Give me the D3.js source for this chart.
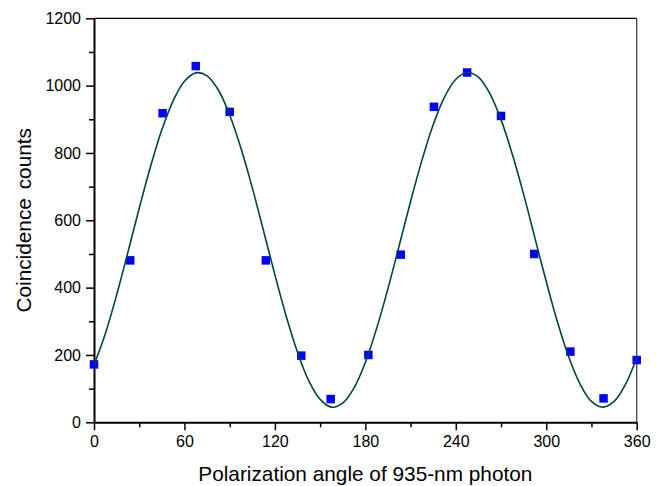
<!DOCTYPE html>
<html>
<head>
<meta charset="utf-8">
<script src="https://cdn.jsdelivr.net/npm/d3@7"></script>
<style>
    body { margin: 0; background: #fff; }
    text { font-family: "Liberation Sans", Arial, sans-serif; fill: #000; }
</style>
</head>
<body>
<div id="chart"></div>
<script>
// Measured points (angle in degrees, coincidence counts)
let angles = [0, 24, 45.5, 67.5, 90, 114, 137.5, 157, 182, 203.5, 225.5, 247.5, 270, 292, 316, 338, 360];
let counts = [172, 481, 918, 1058, 922, 481, 198, 69, 200, 498, 937, 1039, 910, 500, 210, 71, 185];

// Fitted curve, every 7.5 degrees
let fitAngles = [0, 7.5, 15, 22.5, 30, 37.5, 45, 52.5, 60, 67.5, 75, 82.5, 90, 97.5, 105, 112.5,
    120, 127.5, 135, 142.5, 150, 157.5, 165, 172.5, 180, 187.5, 195, 202.5, 210, 217.5, 225, 232.5,
    240, 247.5, 255, 262.5, 270, 277.5, 285, 292.5, 300, 307.5, 315, 322.5, 330, 337.5, 345, 352.5, 360];
let fitCounts = [170, 263, 378, 505, 636, 760, 869, 955, 1013, 1038, 1029, 987, 913, 814, 697, 568,
    438, 315, 208, 123, 68, 45, 57, 102, 178, 279, 397, 526, 656, 778, 884, 966,
    1019, 1039, 1025, 977, 899, 796, 677, 547, 418, 297, 193, 113, 62, 45, 62, 112, 192];

let xTicks = [0, 60, 120, 180, 240, 300, 360];
let xMinorTicks = [30, 90, 150, 210, 270, 330];
let yTicks = [0, 200, 400, 600, 800, 1000, 1200];
let yMinorTicks = [100, 300, 500, 700, 900, 1100];

let chart_width = 671;
let chart_height = 486;
let plotLeft = 94, plotRight = 636.7, plotTop = 18.3, plotBottom = 422.3;

let svg = d3.select('#chart')
    .append('svg')
    .attr('width', chart_width)
    .attr('height', chart_height);

// Scales
let xScale = d3.scaleLinear()
    .domain([0, 360])
    .range([plotLeft, plotRight]);

let yScale = d3.scaleLinear()
    .domain([0, 1200])
    .range([plotBottom, plotTop]);

// Minor ticks first, then major ticks with labels
svg.append('g')
    .attr('transform', 'translate(0,' + plotBottom + ')')
    .call(d3.axisBottom(xScale).tickValues(xMinorTicks).tickSize(5).tickFormat(''))
    .call(g => g.select('.domain').remove());

svg.append('g')
    .attr('transform', 'translate(' + plotLeft + ',0)')
    .call(d3.axisLeft(yScale).tickValues(yMinorTicks).tickSize(5).tickFormat(''))
    .call(g => g.select('.domain').remove());

let xAxis = svg.append('g')
    .attr('transform', 'translate(0,' + plotBottom + ')')
    .call(d3.axisBottom(xScale).tickValues(xTicks).tickSize(8).tickSizeOuter(0)
        .tickPadding(5).tickFormat(d3.format('d')));

let yAxis = svg.append('g')
    .attr('transform', 'translate(' + plotLeft + ',0)')
    .call(d3.axisLeft(yScale).tickValues(yTicks).tickSize(8).tickSizeOuter(0)
        .tickPadding(5).tickFormat(d3.format('d')));

svg.selectAll('.tick line')
    .attr('stroke', '#000')
    .attr('stroke-width', 1.5);

svg.selectAll('.tick text')
    .attr('font-size', 16)
    .attr('font-family', '"Liberation Sans", Arial, sans-serif');

xAxis.select('.domain').attr('stroke-width', 2);
yAxis.select('.domain').attr('stroke-width', 2);

// Top and right frame
svg.append('line')
    .attr('x1', plotLeft).attr('x2', plotRight)
    .attr('y1', plotTop).attr('y2', plotTop)
    .attr('stroke', '#000')
    .attr('stroke-width', 1.2);

svg.append('line')
    .attr('x1', plotRight).attr('x2', plotRight)
    .attr('y1', plotTop).attr('y2', plotBottom)
    .attr('stroke', '#333')
    .attr('stroke-width', 1.2);

// Data squares
let size = 8.5;
svg.append('g')
    .selectAll('rect')
    .data(angles)
    .enter()
    .append('rect')
    .attr('x', (d, i) => xScale(d) - size / 2)
    .attr('y', (d, i) => yScale(counts[i]) - size / 2)
    .attr('width', size)
    .attr('height', size)
    .attr('fill', '#0000ff');

// Fitted curve
let line = d3.line()
    .x((d, i) => xScale(d))
    .y((d, i) => yScale(fitCounts[i]))
    .curve(d3.curveCatmullRom);

svg.append('path')
    .datum(fitAngles)
    .attr('d', line)
    .attr('fill', 'none')
    .attr('stroke', '#004444')
    .attr('stroke-width', 1.6);

// Axis titles
svg.append('text')
    .attr('x', (plotLeft + plotRight) / 2)
    .attr('y', 481)
    .attr('text-anchor', 'middle')
    .attr('font-size', 20.8)
    .text('Polarization angle of 935-nm photon');

svg.append('text')
    .attr('transform', 'translate(31,' + (plotBottom + plotTop) / 2 + ') rotate(-90)')
    .attr('text-anchor', 'middle')
    .attr('font-size', 20.8)
    .attr('word-spacing', 3)
    .text('Coincidence counts');
</script>
</body>
</html>
